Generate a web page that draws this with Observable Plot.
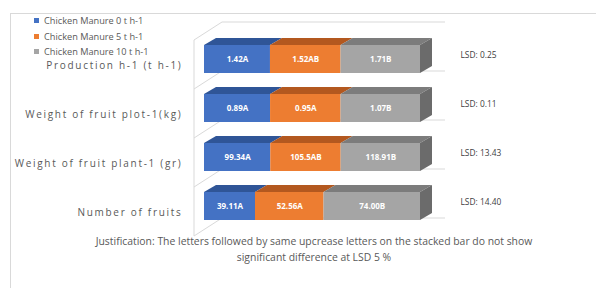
<!DOCTYPE html>
<html><head><meta charset="utf-8">
<script src="https://cdn.jsdelivr.net/npm/d3@7"></script>
<script src="https://cdn.jsdelivr.net/npm/@observablehq/plot@0.6"></script>
<style>
body{margin:0;background:#fff;}
#wrap{position:relative;width:596px;height:288px;overflow:hidden;font-family:"Open Sans",Lato,sans-serif;}
#frame{position:absolute;left:10px;top:13px;width:620px;height:300px;border-top:1px solid #d9d9d9;border-left:1px solid #d9d9d9;}
#chart{position:absolute;left:0;top:0;}
#legend{position:absolute;left:34px;top:13px;font-size:9.2px;line-height:11px;color:#595959;}
.li{height:15.5px;display:flex;align-items:center;white-space:nowrap;}
.sw{width:5px;height:5px;margin-right:5px;flex:none;}
#caption{position:absolute;left:0;width:628px;top:233px;text-align:center;font-size:10.4px;color:#595959;line-height:16px;}
#chart g[aria-label="y-axis tick label"] text{letter-spacing:1.7px;}
</style></head>
<body>
<div id="wrap">
  <div id="frame"></div>
  <div id="chart"></div>
  <div id="legend"></div>
  <div id="caption"></div>
</div>
<script>
const categories = ["Production h-1 (t h-1)", "Weight of fruit plot-1(kg)", "Weight of fruit plant-1 (gr)", "Number of fruits"];
const seriesNames = ["Chicken Manure 0 t h-1", "Chicken Manure 5 t h-1", "Chicken Manure 10 t h-1"];
const cm0 = [1.42, 0.89, 99.34, 39.11];
const cm5 = [1.52, 0.95, 105.5, 52.56];
const cm10 = [1.71, 1.07, 118.91, 74.00];
const labels0 = ["1.42A", "0.89A", "99.34A", "39.11A"];
const labels5 = ["1.52AB", "0.95A", "105.5AB", "52.56A"];
const labels10 = ["1.71B", "1.07B", "118.91B", "74.00B"];
const lsdLabels = ["LSD: 0.25", "LSD: 0.11", "LSD: 13.43", "LSD: 14.40"];
const captionLines = ["Justification: The letters followed by same upcrease letters on the stacked bar do not show", "significant difference at LSD 5 %"];

const colors = ["#4472C4", "#ED7D31", "#A5A5A5"];
const topColors = ["#2F5597", "#B3581F", "#7C7C7C"];
const sideColor = "#6B6B6B";
const gridColor = "#d9d9d9";

const seriesValues = [cm0, cm5, cm10];
const seriesLabels = [labels0, labels5, labels10];
const table = [];
seriesNames.forEach((s, si) => categories.forEach((c, ci) => {
  table.push({series: s, category: c, value: seriesValues[si][ci], label: seriesLabels[si][ci]});
}));
const lsdTable = categories.map((c, i) => ({category: c, text: lsdLabels[i]}));

// 3D decoration drawn through the plot's scales
function depthMark(index, scales) {
  const x = scales.x, y = scales.y;
  const bw = y.bandwidth ? y.bandwidth() : 28;
  const step = y.step ? y.step() : 49;
  const gap = step - bw;
  const dx = 12, dy = -7;
  const g = d3.create("svg:g");
  const fX = x(0) - 10, fY = 5.5, bX = x(0) + 18, bY = -12.5, bEnd = x(1) + 25;
  const bounds = categories.map(c => y(c) - gap / 2).concat([y(categories[categories.length - 1]) + bw + gap / 2]);
  g.append("line").attr("x1", fX).attr("x2", fX).attr("y1", bounds[0] + fY).attr("y2", bounds[bounds.length - 1] + fY)
    .attr("stroke", gridColor);
  bounds.forEach(b => {
    g.append("path").attr("d", `M${fX},${b + fY}L${bX},${b + bY}L${bEnd},${b + bY}`)
      .attr("fill", "none").attr("stroke", gridColor);
  });
  categories.forEach((c, ci) => {
    const total = d3.sum(seriesValues, v => v[ci]);
    let acc = 0;
    const t = y(c);
    seriesValues.forEach((v, si) => {
      const xa = x(acc / total);
      acc += v[ci];
      const xb = x(acc / total);
      g.append("path").attr("d", `M${xa},${t}L${xb},${t}L${xb + dx},${t + dy}L${xa + dx},${t + dy}Z`)
        .attr("fill", topColors[si]);
    });
    const xe = x(1);
    g.append("path").attr("d", `M${xe},${t}L${xe + dx},${t + dy}L${xe + dx},${t + bw + dy}L${xe},${t + bw}Z`)
      .attr("fill", sideColor);
  });
  return g.node();
}

const chart = Plot.plot({
  width: 596,
  height: 288,
  marginLeft: 204,
  marginRight: 176,
  marginTop: 45,
  marginBottom: 68,
  style: {fontFamily: "'Open Sans', Lato, sans-serif", background: "transparent"},
  x: {domain: [0, 1], axis: null},
  y: {domain: categories, range: [45, 220], paddingInner: 0.43, paddingOuter: 0, label: null},
  color: {domain: seriesNames, range: colors},
  marks: [
    depthMark,
    Plot.barX(table, {x: "value", y: "category", fill: "series", offset: "normalize"}),
    Plot.text(table, Plot.stackX({x: "value", y: "category", text: "label", offset: "normalize",
      fill: "white", fontWeight: "bold", fontSize: 8})),
    Plot.text(lsdTable, {x: d => 1, y: "category", text: "text", dx: 40, dy: -4, textAnchor: "start",
      fontSize: 8.4, fill: "#404040"}),
    Plot.axisY({tickSize: 0, tickPadding: 22, dy: 6, fontSize: 10, fill: "#595959", label: null})
  ]
});
document.getElementById("chart").appendChild(chart);

const legend = document.getElementById("legend");
seriesNames.forEach((s, i) => {
  const row = document.createElement("div");
  row.className = "li";
  const sw = document.createElement("span");
  sw.className = "sw";
  sw.style.background = colors[i];
  const tx = document.createElement("span");
  tx.textContent = s;
  row.appendChild(sw); row.appendChild(tx);
  legend.appendChild(row);
});
const cap = document.getElementById("caption");
captionLines.forEach(l => {
  const d = document.createElement("div");
  d.textContent = l;
  cap.appendChild(d);
});
</script>
</body></html>
